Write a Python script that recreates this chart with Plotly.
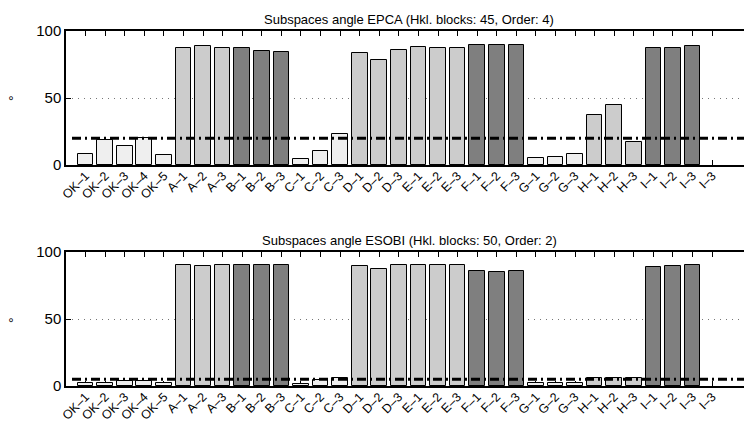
import plotly.graph_objects as go

labels = ["OK–1", "OK–2", "OK–3", "OK–4", "OK–5",
          "A–1", "A–2", "A–3", "B–1", "B–2", "B–3",
          "C–1", "C–2", "C–3", "D–1", "D–2", "D–3",
          "E–1", "E–2", "E–3", "F–1", "F–2", "F–3",
          "G–1", "G–2", "G–3", "H–1", "H–2", "H–3",
          "I–1", "I–2", "I–3", "I–3"]

epca_values = [8.2, 18.4, 13.9, 19.8, 7.2,
               87.5, 88.5, 87.5, 87.5, 85.1, 84.6,
               4.5, 10.7, 22.9, 83.8, 78.1, 86.1,
               87.8, 87.6, 87.6, 89.3, 89.3, 89.3,
               5.0, 6.2, 8.5, 37.1, 44.5, 16.9,
               87.6, 87.1, 88.8, None]

esobi_values = [2.3, 2.4, 3.7, 3.4, 2.3,
                90.0, 89.3, 90.0, 90.0, 90.0, 90.0,
                1.5, 4.3, 6.0, 89.3, 87.3, 90.0,
                90.0, 90.0, 90.0, 85.8, 85.3, 86.0,
                2.0, 2.0, 2.0, 6.3, 6.3, 6.3,
                88.8, 89.5, 90.0, None]

groups = ["OK"] * 5 + ["A"] * 3 + ["B"] * 3 + ["C"] * 3 + ["D"] * 3 + ["E"] * 3 + \
         ["F"] * 3 + ["G"] * 3 + ["H"] * 3 + ["I"] * 3 + ["I"]

group_colors = {"OK": "#efefef", "C": "#efefef", "G": "#efefef",
                "A": "#cccccc", "D": "#cccccc", "E": "#cccccc", "H": "#cccccc",
                "B": "#7f7f7f", "F": "#7f7f7f", "I": "#7f7f7f"}

epca_threshold = 20
esobi_threshold = 5

titles = ["Subspaces angle EPCA (Hkl. blocks: 45, Order: 4)",
          "Subspaces angle ESOBI (Hkl. blocks: 50, Order: 2)"]
y_label = "°"

x_pos = list(range(1, len(labels) + 1))
colors = [group_colors[g] for g in groups]

fig = go.Figure()
fig.add_trace(go.Bar(x=x_pos, y=epca_values, xaxis="x", yaxis="y",
                     marker=dict(color=colors, line=dict(color="black", width=1)),
                     width=0.8, showlegend=False))
fig.add_trace(go.Bar(x=x_pos, y=esobi_values, xaxis="x2", yaxis="y2",
                     marker=dict(color=colors, line=dict(color="black", width=1)),
                     width=0.8, showlegend=False))

W, H = 744, 423
ml, mr, mt, mb = 66, 0, 31, 37
plot_w = W - ml - mr
plot_h = H - mt - mb
spacing = 19.58
x_range = [0, plot_w / spacing]

def py(p):
    return (H - mb - p) / plot_h

def px(p):
    return (p - ml) / plot_w

FONT = "Liberation Sans, Arial, sans-serif"
xcommon = dict(range=x_range, tickmode="array", tickvals=x_pos, ticktext=labels,
               tickangle=-45, ticks="inside", ticklen=5, tickcolor="black",
               showline=True, linecolor="black", linewidth=1.5, mirror="ticks",
               showgrid=False, zeroline=False, layer="below traces", automargin=False,
               ticklabelstandoff=-3,
               tickfont=dict(family=FONT, size=12.5, color="black"))
ycommon = dict(range=[0, 100], tickmode="array", tickvals=[0, 50, 100],
               ticks="inside", ticklen=5, tickcolor="black",
               showline=True, linecolor="black", linewidth=1.5, mirror=False,
               showgrid=True, gridcolor="#777777", griddash="1px,5px", gridwidth=1,
               zeroline=False, layer="below traces", automargin=False,
               tickfont=dict(family=FONT, size=15, color="black"))

fig.update_layout(
    width=W, height=H,
    margin=dict(l=ml, r=mr, t=mt, b=mb, autoexpand=False),
    paper_bgcolor="white", plot_bgcolor="white",
    bargap=0,
    xaxis=dict(xcommon, anchor="y", domain=[0, 1]),
    yaxis=dict(ycommon, anchor="x", domain=[py(165), 1]),
    xaxis2=dict(xcommon, anchor="y2", domain=[0, 1]),
    yaxis2=dict(ycommon, anchor="x2", domain=[0, py(252)]),
)

for xa, ya, thr in [("x", "y", epca_threshold), ("x2", "y2", esobi_threshold)]:
    fig.add_shape(type="line", xref=f"{xa} domain", yref=ya, x0=px(72), x1=1,
                  y0=thr, y1=thr, layer="above",
                  line=dict(color="black", width=3, dash="9px,4px,2px,4px"))

font_t = dict(family=FONT, size=13, color="black")
for title, yc in zip(titles, [19.5, 240]):
    fig.add_annotation(text=title, xref="paper", yref="paper", x=px(409), y=py(yc),
                       xanchor="center", yanchor="middle", showarrow=False, font=font_t)
for yc in [98, 320]:
    fig.add_annotation(text=y_label, xref="paper", yref="paper", x=px(14), y=py(yc),
                       xanchor="center", yanchor="middle", showarrow=False,
                       textangle=-90, font=dict(family=FONT, size=14, color="black"))

fig.write_html("out.html", config={"displayModeBar": False},
               post_script="document.body.style.margin='0';document.body.style.overflow='hidden';")
